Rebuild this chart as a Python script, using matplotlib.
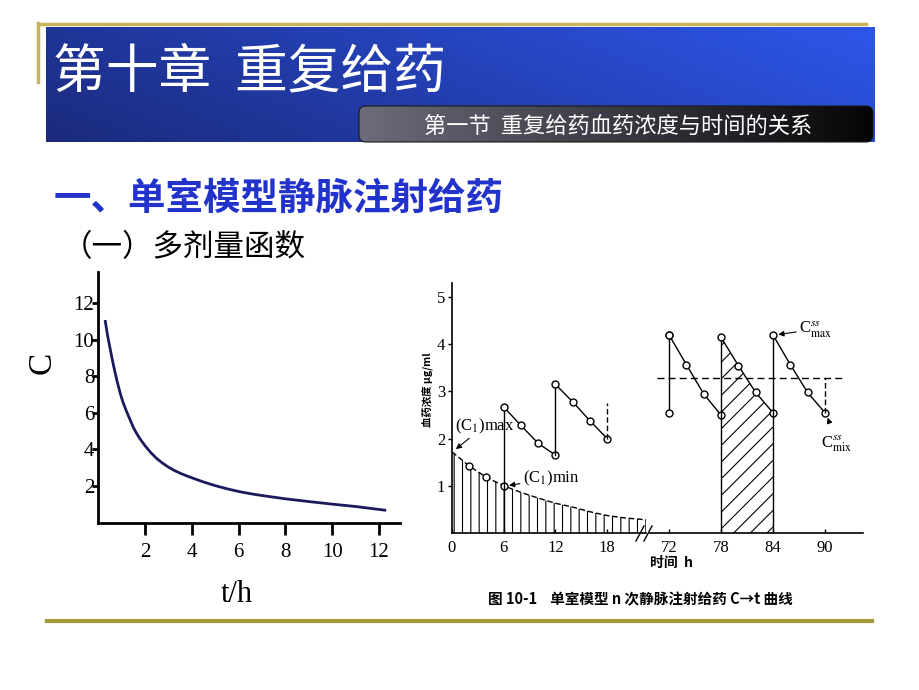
import numpy as np
import matplotlib
matplotlib.use('Agg')
import matplotlib.pyplot as plt
from matplotlib.colors import LinearSegmentedColormap
from matplotlib.patches import FancyBboxPatch

plt.rcParams['font.family'] = ['Noto Sans CJK SC', 'DejaVu Sans']
plt.rcParams['mathtext.fontset'] = 'stix'
plt.rcParams['hatch.linewidth'] = 0.8

"""LEFT CHART: single dose C vs t"""
t_curve = [0.3, 0.4, 0.5, 0.6, 0.7, 0.8, 0.93, 1.05, 1.2, 1.35, 1.5, 1.65,
           1.8, 2.0, 2.25, 2.5, 2.75, 3.0, 3.25, 3.5, 3.75, 4.0, 4.5, 5.0,
           5.5, 6.0, 6.5, 7.0, 7.5, 8.0, 9.0, 10.0, 11.0, 12.25]
c_curve = [11.0, 10.2, 9.55, 8.9, 8.3, 7.75, 7.1, 6.6, 6.1, 5.65, 5.2, 4.85,
           4.55, 4.2, 3.82, 3.5, 3.25, 3.03, 2.85, 2.7, 2.57, 2.45, 2.22, 2.02,
           1.85, 1.7, 1.58, 1.48, 1.39, 1.3, 1.15, 1.01, 0.88, 0.68]
left_ticks = [2, 4, 6, 8, 10, 12]

"""RIGHT CHART: repeated iv doses"""
c1_t = [0, 2, 4, 6, 8, 10, 12, 14, 16, 18, 20, 22.5]
c1_c = [1.72, 1.42, 1.18, 1.0, 0.86, 0.74, 0.63, 0.55, 0.45, 0.37, 0.32, 0.28]
dose2_t = [6, 8, 10, 12]
dose2_c = [2.67, 2.28, 1.9, 1.65]
dose3_t = [12, 14, 16, 18]
dose3_c = [3.15, 2.78, 2.38, 2.0]
dose3_next = 2.75
ss1_t = [72, 74, 76, 78]
ss1_c = [4.2, 3.57, 2.95, 2.5]
ss1_trough = 2.55
ss2_t = [78, 80, 82, 84]
ss2_c = [4.15, 3.55, 2.98, 2.55]
ss3_t = [84, 86, 88, 90]
ss3_c = [4.2, 3.57, 2.98, 2.55]
c_avg = 3.28
right_yticks = [1, 2, 3, 4, 5]
ticks_a = [0, 6, 12, 18]
ticks_b = [72, 78, 84, 90]

W, H = 920, 690
fig = plt.figure(figsize=(9.2, 6.9), dpi=100)
bg = fig.add_axes([0, 0, 1, 1])
bg.axis('off')


def box(l, t, r, b):
    return [l / W, 1 - b / H, (r - l) / W, (b - t) / H]


"""SLIDE DECORATION"""
gx = np.linspace(0, 1, 256)
gy = np.linspace(0, 1, 64)
grad = 0.75 * gx[None, :] + 0.25 * (1 - gy[:, None])
blue = LinearSegmentedColormap.from_list('b', ['#1b2a7c', '#2440b4', '#2d56ea'])
bg.imshow(grad, cmap=blue, extent=[46, 875, 142, 27], aspect='auto', zorder=1)

sub = FancyBboxPatch((362, 109), 508, 30, boxstyle='round,pad=3,rounding_size=7',
                     facecolor='none', edgecolor='#1a1a1a', lw=0.8, zorder=3)
bg.add_patch(sub)
grey = LinearSegmentedColormap.from_list('g', ['#6c6c7a', '#3a3a44', '#050505'])
im = bg.imshow(np.tile(gx, (8, 1)), cmap=grey, extent=[359, 873, 142, 106],
               aspect='auto', zorder=2)
im.set_clip_path(sub)

bg.plot([38, 866], [23.5, 23.5], color='#c8b25a', lw=2.5, zorder=4)
bg.plot([38.5, 38.5], [23, 82], color='#c8b25a', lw=2.5, zorder=0)
bg.plot([47, 872], [621, 621], color='#a39a3e', lw=3)

bg.text(53, 72, '第十章  重复给药', color='white', fontsize=38, va='center', zorder=5)
bg.text(424, 126, '第一节  重复给药血药浓度与时间的关系', color='white',
        fontsize=16, va='center', zorder=5)
bg.text(54, 198, '一、单室模型静脉注射给药', color='#2233cc', fontsize=27,
        fontweight='bold', va='center')
bg.text(62, 248, '（一）多剂量函数', color='black', fontsize=22, va='center')

# break marks on the right chart baseline
bg.plot([636, 644], [541, 526], color='black', lw=1)
bg.plot([644, 652], [541, 526], color='black', lw=1)

bg.text(672, 563, '时间  h', fontsize=10, fontweight='bold', ha='center', va='center')
bg.text(427, 390, '血药浓度 μg/ml', fontsize=7.5, fontweight='bold', rotation=90,
        ha='center', va='center')
bg.text(640, 599, '图 10-1    单室模型 n 次静脉注射给药 C→t 曲线', fontsize=10.5,
        fontweight='bold', ha='center', va='center')

bg.set_xlim(0, W)
bg.set_ylim(H, 0)

"""LEFT CHART"""
ax1 = fig.add_axes(box(98.3, 272, 400, 522.6))
ax1.set_facecolor('none')
ax1.plot(t_curve, c_curve, color='#1c1a5c', lw=2)
ax1.set_xlim(0, 12.9)
ax1.set_ylim(0, 13.7)
ax1.spines[['top', 'right']].set_visible(False)
ax1.spines[['left', 'bottom']].set_linewidth(2)
ax1.set_xticks(left_ticks, [str(v) for v in left_ticks],
               fontfamily='Liberation Serif', fontsize=15)
ax1.set_yticks(left_ticks, [str(v) for v in left_ticks],
               fontfamily='Liberation Serif', fontsize=15)
ax1.tick_params(axis='x', width=2, length=8.5, pad=6)
ax1.tick_params(axis='y', width=2, length=4.5, pad=-1.5)
ax1.set_ylabel('C', fontfamily='Liberation Serif', fontsize=24)
ax1.yaxis.set_label_coords(-0.136, 0.636)
ax1.set_xlabel('t/h', fontfamily='Liberation Serif', fontsize=22, va='center')
ax1.xaxis.set_label_coords(0.458, -0.288)

"""RIGHT CHART (broken time axis)"""
axa = fig.add_axes(box(452, 283, 646, 533))
axb = fig.add_axes(box(650, 283, 863, 533))
axa.set_xlim(0, 22.5)
axb.set_xlim(69.8, 94.4)
for a in (axa, axb):
    a.set_facecolor('none')
    a.set_ylim(0, 5.3)
    a.spines[['top', 'right']].set_visible(False)
    a.spines[['left', 'bottom']].set_linewidth(1.2)
    a.tick_params(axis='x', direction='in', length=3, width=1, pad=5)
    a.tick_params(axis='y', length=3, width=1, pad=2)
axb.spines['left'].set_visible(False)
axb.set_yticks([])
axa.set_yticks(right_yticks, [str(v) for v in right_yticks],
               fontfamily='Liberation Serif', fontsize=12)
axa.set_xticks(ticks_a, [str(v) for v in ticks_a],
               fontfamily='Liberation Serif', fontsize=12)
axb.set_xticks(ticks_b, [str(v) for v in ticks_b],
               fontfamily='Liberation Serif', fontsize=12)

mk = dict(marker='o', ms=5, mfc='white', mec='black', mew=1)
ln = dict(color='black', lw=1)

# first dose, dashed decay with vertical hatching
axa.fill_between(c1_t, 0, c1_c, facecolor='none', edgecolor='black',
                 hatch='||', linewidth=0)
axa.plot(c1_t, c1_c, ls=(0, (4, 2)), **ln)
axa.plot(c1_t[1:4], c1_c[1:4], ls='none', **mk)

# second and third doses
axa.plot([dose2_t[0], dose2_t[0]], [0, dose2_c[0]], **ln)
axa.plot(dose2_t, dose2_c, **ln, **mk)
axa.plot([dose3_t[0], dose3_t[0]], [dose2_c[-1], dose3_c[0]], **ln)
axa.plot(dose3_t, dose3_c, **ln, **mk)
axa.plot([dose3_t[-1], dose3_t[-1]], [dose3_c[-1], dose3_next], ls=(0, (4, 2)), **ln)

# steady state
axb.plot([ss1_t[0], ss1_t[0]], [ss1_trough, ss1_c[0]], **ln, **mk)
axb.plot(ss1_t, ss1_c, **ln, **mk)
axb.fill_between(ss2_t, 0, ss2_c, facecolor='none', edgecolor='black',
                 hatch='//', linewidth=0)
axb.plot([ss2_t[0], ss2_t[0]], [0, ss2_c[0]], **ln)
axb.plot(ss2_t, ss2_c, **ln, **mk)
axb.plot([ss3_t[0], ss3_t[0]], [0, ss3_c[0]], **ln)
axb.plot(ss3_t, ss3_c, **ln, **mk)
axb.plot([70.6, 92.0], [c_avg, c_avg], ls=(0, (5, 3)), **ln)
axb.plot([ss3_t[-1], ss3_t[-1]], [ss3_c[-1], c_avg], ls=(0, (4, 2)), **ln)

# annotations
arr = dict(arrowstyle='-|>', color='black', lw=0.8, mutation_scale=8,
           shrinkA=0, shrinkB=2)
tf = dict(fontfamily='Liberation Serif', fontsize=12, va='center')
axa.annotate('(C$_1$)max', xy=(0.2, 1.74), xytext=(0.3, 2.27), arrowprops=arr, **tf)
axa.annotate('(C$_1$)min', xy=(6.3, 1.0), xytext=(8.2, 1.15), arrowprops=arr, **tf)
axb.annotate('C$_{\\mathrm{max}}^{ss}$', xy=(84.3, 4.2), xytext=(87.0, 4.32),
             arrowprops=arr, **tf)
axb.annotate('C$_{\\mathrm{mix}}^{ss}$', xy=(90.2, 2.5), xytext=(89.6, 1.9),
             arrowprops=dict(arr, shrinkA=6), **tf)

fig.savefig('out.png', dpi=100)
